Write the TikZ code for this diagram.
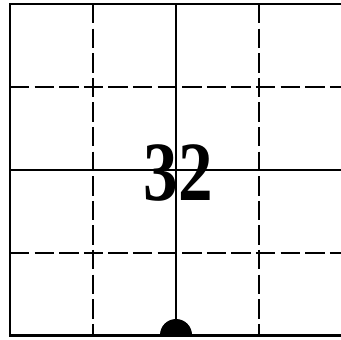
\documentclass[tikz,border=0pt]{standalone}
\usepackage{fontspec}
\setmainfont{Liberation Serif}
\usepackage{tikz}

\begin{document}
\begin{tikzpicture}[
      x=0.02cm, y=-0.02cm,
      frame/.style={draw=black, line width=1.7pt},
      midline/.style={draw=black, line width=1.1pt},
      gridline/.style={draw=black, line width=0.8pt, dash pattern=on 11pt off 3pt},
      number/.style={font=\fontsize{48}{48}\selectfont\bfseries, inner sep=0pt, xscale=0.82}
    ]
    \useasboundingbox (0,0) rectangle (341,339);
    % dashed quarter lines
    \foreach \i in {93,259} {
      \draw[gridline] (\i,4) -- (\i,335);
      \draw[gridline] (10,\i-6) -- (342,\i-6);
    }
    % middle lines
    \draw[midline] (176,4) -- (176,335);
    \draw[midline] (10,170) -- (342,170);
    % outer frame
    \draw[frame] (10,4) rectangle (342,335);

    \node[number] (value) at (178,173) {32};

    % half disc on the bottom edge
    \fill[black] (160,335) arc[start angle=180, end angle=360, radius=16] -- cycle;
  \end{tikzpicture}
\end{document}
